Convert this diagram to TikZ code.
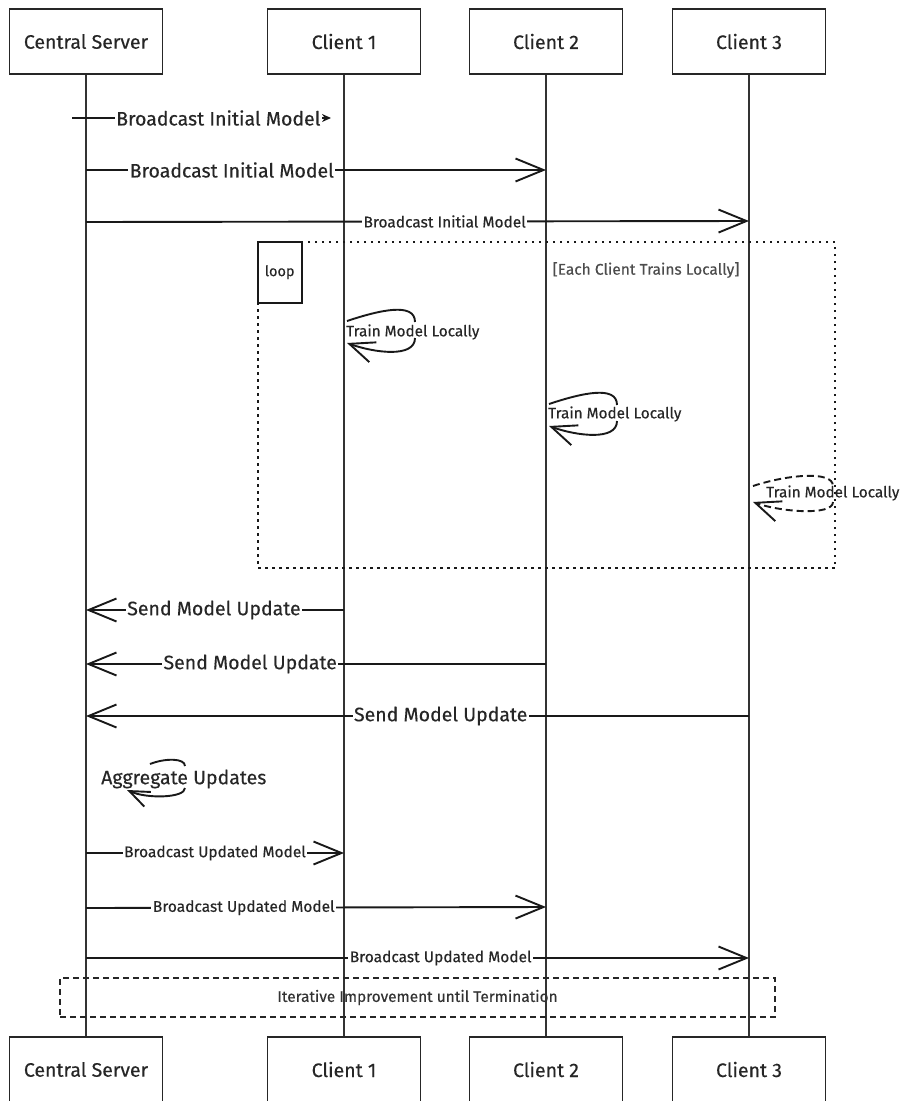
\documentclass[tikz,border=0pt]{standalone}
\usepackage{fontspec}
\setmainfont{Fira Sans}[FakeBold=0.35]
\usetikzlibrary{positioning,arrows.meta}

\begin{document}
\begin{tikzpicture}[x=1pt,y=-1pt,
        actor/.style={rectangle,draw=black!85,line width=1.9pt,
          minimum width=153pt,minimum height=65pt,
          font=\fontsize{19.5}{22}\selectfont,text=black!85},
        lifeline/.style={draw=black!80,line width=1.6pt},
        msg/.style={draw=black!90,line width=1.9pt,
          -{Straight Barb[length=28pt,width=23pt,line width=1.9pt]}},
        firstmsg/.style={draw=black!90,line width=1.9pt,
          -{Stealth[length=9pt,width=8pt]}},
        selfmsg/.style={draw=black!90,line width=1.9pt,
          -{Straight Barb[length=25pt,width=21pt,line width=1.9pt]}},
        bigtext/.style={fill=white,inner sep=1.5pt,text=black!85,
          font=\fontsize{19.5}{22}\selectfont},
        smalltext/.style={fill=white,inner sep=1.5pt,text=black!85,
          font=\fontsize{15.5}{17}\selectfont},
        selftext/.style={inner sep=0pt,anchor=west,text=black!85,
          font=\fontsize{15.3}{17}\selectfont},
        loopframe/.style={draw=black!90,line width=2.5pt,
          dash pattern=on 2.5pt off 4.5pt,
          minimum width=577pt,minimum height=326pt},
        loopbox/.style={draw=black!90,line width=1.9pt,anchor=north west,
          minimum width=44pt,minimum height=61pt,inner sep=0pt,
          font=\fontsize{14.5}{16}\selectfont,text=black!85},
        endframe/.style={draw=black!85,line width=2pt,
          dash pattern=on 6pt off 4pt,
          minimum width=715pt,minimum height=39pt,
          font=\fontsize{15.4}{17}\selectfont,text=black!80}]
  \useasboundingbox (0,0) rectangle (901,1101);

  % participants
  \node at ( 86,41.5) [actor] (srv) {Central Server};
  \node at (344,41.5) [actor] (cl1) {Client 1};
  \node at (546,41.5) [actor] (cl2) {Client 2};
  \node at (749,41.5) [actor] (cl3) {Client 3};
  \node at ( 86,1069.5) [actor] (srvb) {Central Server};
  \node at (344,1069.5) [actor] (cl1b) {Client 1};
  \node at (546,1069.5) [actor] (cl2b) {Client 2};
  \node at (749,1069.5) [actor] (cl3b) {Client 3};
  \draw[lifeline] (srv) -- (srvb);
  \draw[lifeline] (cl1) -- (cl1b);
  \draw[lifeline] (cl2) -- (cl2b);
  \draw[lifeline] (cl3) -- (cl3b);

  % broadcast initial model
  \coordinate (init1s) at ( 72,118);  \coordinate (init1e) at (331,118);
  \coordinate (init2s) at ( 86,170);  \coordinate (init2e) at (546,170);
  \coordinate (init3s) at ( 86,222);  \coordinate (init3e) at (749,221);
  \draw[firstmsg] (init1s) -- node[bigtext,pos=.565] {Broadcast Initial Model} (init1e);
  \draw[msg] (init2s) -- node[bigtext,pos=.317] {Broadcast Initial Model} (init2e);
  \draw[msg] (init3s) -- node[smalltext,pos=.541] {Broadcast Initial Model} (init3e);

  % loop
  \node at (546.5,405) [loopframe] (loop) {};
  \node at (loop.north west) [loopbox] (looptag) {loop};
  \node at (646,270) [text=black!70,font=\fontsize{15.5}{17}\selectfont] (guard)
    {[Each Client Trains Locally]};
  \coordinate (train1) at (347,321);
  \coordinate (train2) at (549,404);
  \coordinate (train3) at (753,486);
  \draw[selfmsg] (train1) .. controls +(33,-11) and +(0,-20) .. ++(68,1)
    ++(0,16) .. controls +(0,20) and +(28,10) .. ++(-68,5);
  \draw[selfmsg] (train2) .. controls +(33,-11) and +(0,-20) .. ++(68,1)
    ++(0,16) .. controls +(0,20) and +(28,10) .. ++(-68,5);
  \draw[selfmsg,dash pattern=on 7pt off 4pt] (train3) .. controls +(33,-11) and +(0,-16) .. ++(80,0)
    ++(0,16) .. controls +(0,14) and +(28,10) .. ++(-80,0);
  \node at (346,332) [selftext] (train1txt) {Train Model Locally};
  \node at (548,414) [selftext] (train2txt) {Train Model Locally};
  \node at (766,493) [selftext] (train3txt) {Train Model Locally};

  % send model update
  \coordinate (upd1s) at (344,610);  \coordinate (upd1e) at (86,610);
  \coordinate (upd2s) at (546,664);  \coordinate (upd2e) at (86,664);
  \coordinate (upd3s) at (749,716);  \coordinate (upd3e) at (86,716);
  \draw[msg] (upd1s) -- node[bigtext,pos=.504] {Send Model Update} (upd1e);
  \draw[msg] (upd2s) -- node[bigtext,pos=.643] {Send Model Update} (upd2e);
  \draw[msg] (upd3s) -- node[bigtext,pos=.465] {Send Model Update} (upd3e);

  % aggregate
  \coordinate (aggr) at (150,764);
  \draw[selfmsg,-{Straight Barb[length=20pt,width=16pt,line width=1.9pt]}]
    (aggr) .. controls +(15,-6) and +(0,-8) .. ++(35,2)
    ++(0,22) .. controls +(0,10) and +(20,9) .. ++(-58,2);
  \node at (101,779) [selftext,font=\fontsize{19.5}{22}\selectfont] (aggrtxt) {Aggregate Updates};

  % broadcast updated model
  \coordinate (new1s) at (86,853);  \coordinate (new1e) at (344,853);
  \coordinate (new2s) at (86,908);  \coordinate (new2e) at (546,907);
  \coordinate (new3s) at (86,958);  \coordinate (new3e) at (749,958);
  \draw[msg] (new1s) -- node[smalltext,pos=.5] {Broadcast Updated Model} (new1e);
  \draw[msg] (new2s) -- node[smalltext,pos=.343] {Broadcast Updated Model} (new2e);
  \draw[msg] (new3s) -- node[smalltext,pos=.535] {Broadcast Updated Model} (new3e);

  \node at (417.5,997.5) [endframe] (iter) {Iterative Improvement until Termination};
\end{tikzpicture}
\end{document}
